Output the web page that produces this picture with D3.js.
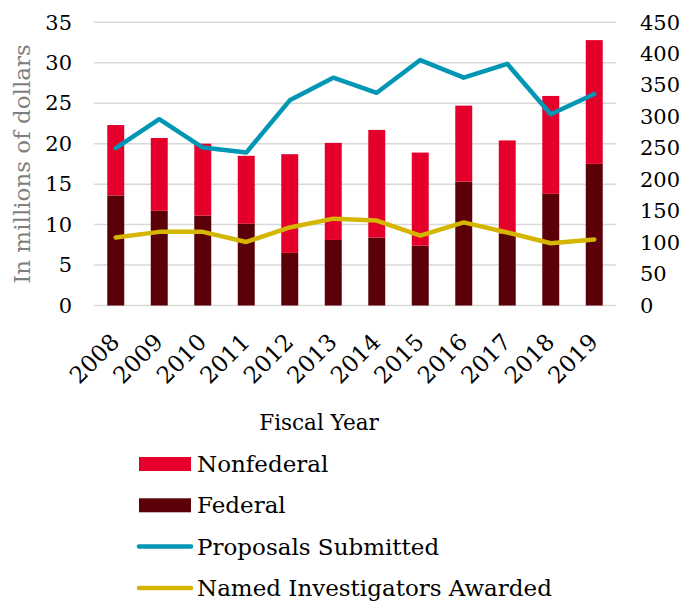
<!DOCTYPE html>
<html>
<head>
<meta charset="utf-8">
<script src="https://cdn.jsdelivr.net/npm/d3@7"></script>
<style>
  body { margin: 0; background: #fff; }
  text { font-family: "DejaVu Serif", serif; }
</style>
</head>
<body>
<div id="chart"></div>
<script>
// data
var years = ["2008", "2009", "2010", "2011", "2012", "2013", "2014", "2015", "2016", "2017", "2018", "2019"];
var federal    = [13.6, 11.7, 11.1, 10.1, 6.5, 8.1, 8.4, 7.4, 15.3, 8.9, 13.8, 17.5];
var nonfederal = [8.7, 9.0, 8.9, 8.4, 12.2, 12.0, 13.3, 11.5, 9.4, 11.5, 12.1, 15.3];
var proposals  = [250, 296, 251, 243, 326, 362, 338, 390, 362, 384, 304, 336];
var investigators = [108, 117, 117, 101, 124, 138, 135, 111, 132, 116, 99, 105];
var leftTicks = [0, 5, 10, 15, 20, 25, 30, 35];
var rightTicks = [0, 50, 100, 150, 200, 250, 300, 350, 400, 450];

var W = 688, H = 603;
var plotL = 94, plotR = 616, plotT = 22.3, plotB = 305.5;
var colNonfed = "#e4002b", colFed = "#5b0008", colProp = "#0096b4", colInv = "#d4b600";

var svg = d3.select("#chart").append("svg")
  .attr("width", W)
  .attr("height", H);

var x = d3.scaleBand().domain(years).range([plotL, plotR]).paddingInner(0.61).paddingOuter(0.305);
var y = d3.scaleLinear().domain([0, 35]).range([plotB, plotT]);
var y2 = d3.scaleLinear().domain([0, 450]).range([plotB, plotT]);

// gridlines
svg.append("g").selectAll("line")
  .data(leftTicks)
  .enter()
  .append("line")
  .attr("x1", plotL)
  .attr("x2", plotR)
  .attr("y1", function (d) { return y(d); })
  .attr("y2", function (d) { return y(d); })
  .style("stroke", "#d9d9d9")
  .style("stroke-width", "1.5px");

// left axis
var yAxis = svg.append("g")
  .attr("transform", "translate(" + (plotL - 22) + ",0)")
  .call(d3.axisLeft(y).tickValues(leftTicks).tickSize(0).tickPadding(0));
yAxis.select(".domain").remove();
yAxis.selectAll("text")
  .style("font-family", "DejaVu Serif")
  .style("font-size", "21px")
  .attr("fill", "#000");

// right axis
var y2Axis = svg.append("g")
  .attr("transform", "translate(" + (plotR + 24) + ",0)")
  .call(d3.axisRight(y2).tickValues(rightTicks).tickSize(0).tickPadding(0));
y2Axis.select(".domain").remove();
y2Axis.selectAll("text")
  .style("font-family", "DejaVu Serif")
  .style("font-size", "21px")
  .attr("fill", "#000");

// stacked bars
svg.append("g").selectAll("rect")
  .data(years)
  .enter()
  .append("rect")
  .attr("x", function (d) { return x(d); })
  .attr("width", x.bandwidth())
  .attr("y", function (d, i) { return y(federal[i]); })
  .attr("height", function (d, i) { return y(0) - y(federal[i]); })
  .attr("fill", colFed);

svg.append("g").selectAll("rect")
  .data(years)
  .enter()
  .append("rect")
  .attr("x", function (d) { return x(d); })
  .attr("width", x.bandwidth())
  .attr("y", function (d, i) { return y(federal[i] + nonfederal[i]); })
  .attr("height", function (d, i) { return y(federal[i]) - y(federal[i] + nonfederal[i]); })
  .attr("fill", colNonfed);

// lines on right axis
var cx = function (d, i) { return x(years[i]) + x.bandwidth() / 2; };
var rightLine = d3.line().x(cx).y(function (d) { return y2(d); });

svg.append("path")
  .datum(proposals)
  .attr("d", rightLine)
  .attr("fill", "none")
  .attr("stroke", colProp)
  .attr("stroke-width", 4.5)
  .attr("stroke-linecap", "round")
  .attr("stroke-linejoin", "round");

svg.append("path")
  .datum(investigators)
  .attr("d", rightLine)
  .attr("fill", "none")
  .attr("stroke", colInv)
  .attr("stroke-width", 4.5)
  .attr("stroke-linecap", "round")
  .attr("stroke-linejoin", "round");

// x tick labels rotated
svg.append("g").selectAll("text")
  .data(years)
  .enter()
  .append("text")
  .attr("text-anchor", "end")
  .attr("transform", function (d) {
    return "translate(" + (x(d) + x.bandwidth() / 2 + 5) + "," + (plotB + 38) + ") rotate(-45)";
  })
  .style("font-size", "23px")
  .text(function (d) { return d; });

// axis titles
svg.append("text")
  .attr("x", 319)
  .attr("y", 430)
  .attr("text-anchor", "middle")
  .style("font-size", "21.5px")
  .text("Fiscal Year");

svg.append("text")
  .attr("transform", "translate(30,164) rotate(-90)")
  .attr("text-anchor", "middle")
  .attr("fill", "#7f7f7f")
  .style("font-size", "23px")
  .text("In millions of dollars");

// legend
var legend = [
  { name: "Nonfederal", type: "rect", color: colNonfed },
  { name: "Federal", type: "rect", color: colFed },
  { name: "Proposals Submitted", type: "line", color: colProp },
  { name: "Named Investigators Awarded", type: "line", color: colInv }
];
var lg = svg.append("g").selectAll("g")
  .data(legend)
  .enter()
  .append("g")
  .attr("transform", function (d, i) { return "translate(139," + (464 + i * 41.3) + ")"; });

lg.filter(function (d) { return d.type == "rect"; })
  .append("rect")
  .attr("x", 0)
  .attr("y", -7)
  .attr("width", 52)
  .attr("height", 14)
  .attr("fill", function (d) { return d.color; });

lg.filter(function (d) { return d.type == "line"; })
  .append("line")
  .attr("x1", 0)
  .attr("x2", 52)
  .attr("stroke", function (d) { return d.color; })
  .attr("stroke-width", 4.5)
  .attr("stroke-linecap", "round");

lg.append("text")
  .attr("x", 58)
  .attr("y", 8)
  .style("font-size", "23px")
  .text(function (d) { return d.name; });
</script>
</body>
</html>
